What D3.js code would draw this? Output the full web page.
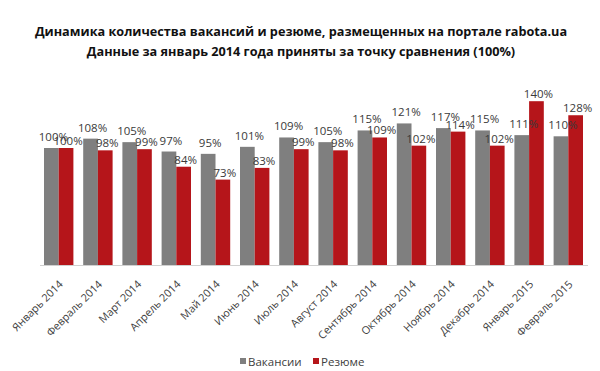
<!DOCTYPE html>
<html>
<head>
<meta charset="utf-8">
<script src="https://cdn.jsdelivr.net/npm/d3@7"></script>
<style>
  body { margin: 0; background: #fff; }
  svg { display: block; font-family: "Open Sans", "DejaVu Sans", sans-serif; }
</style>
</head>
<body>
<div id="vis"></div>
<script>
const width = 600;
const height = 371;

// Data (Jan 2014 = 100%)
const months = [
  "Январь 2014", "Февраль 2014", "Март 2014", "Апрель 2014", "Май 2014",
  "Июнь 2014", "Июль 2014", "Август 2014", "Сентябрь 2014", "Октябрь 2014",
  "Ноябрь 2014", "Декабрь 2014", "Январь 2015", "Февраль 2015"
];
const vacancies = [100, 108, 105, 97, 95, 101, 109, 105, 115, 121, 117, 115, 111, 110];
const resumes = [100, 98, 99, 84, 73, 83, 99, 98, 109, 102, 114, 102, 140, 128];
const seriesNames = ["Вакансии", "Резюме"];
const colors = ["#7f7f7f", "#b5151a"];
const titleLines = [
  "Динамика количества вакансий и резюме, размещенных на портале rabota.ua",
  "Данные за январь 2014 года приняты за точку сравнения (100%)"
];

const svg = d3.select("#vis")
  .append("svg")
  .attr("width", width)
  .attr("height", height);

// Scales
const x = d3.scaleBand()
  .domain(months)
  .range([44, 583])
  .paddingInner(0.25)
  .paddingOuter(0);

const xSub = d3.scaleBand()
  .domain(seriesNames)
  .range([0, x.bandwidth()]);

const y = d3.scaleLinear()
  .domain([0, 160])
  .range([265, 265 - 1.17 * 160]);

// Title
svg.selectAll(".title")
  .data(titleLines)
  .join("text")
  .attr("class", "title")
  .attr("x", 301)
  .attr("y", (d, i) => 36 + i * 20)
  .attr("text-anchor", "middle")
  .style("font-size", "12.7px")
  .style("font-weight", "700")
  .style("fill", "#111")
  .text(d => d);

// Bars
const rows = months.map((m, i) => ({ month: m, values: [vacancies[i], resumes[i]] }));

const groups = svg.append("g")
  .selectAll("g")
  .data(rows)
  .join("g")
  .attr("transform", d => `translate(${x(d.month)},0)`);

groups.selectAll("rect")
  .data(d => d.values.map((v, k) => ({ key: seriesNames[k], k, v })))
  .join("rect")
  .attr("x", d => xSub(d.key))
  .attr("y", d => y(d.v))
  .attr("width", xSub.bandwidth())
  .attr("height", d => y(0) - y(d.v))
  .attr("fill", d => colors[d.k]);

// Value labels
groups.selectAll("text")
  .data(d => d.values.map((v, k) => ({ key: seriesNames[k], k, v })))
  .join("text")
  .attr("x", d => xSub(d.key) + xSub.bandwidth() / 2 + 2)
  .attr("y", d => y(d.v) - (d.k === 0 ? 7 : 3))
  .attr("text-anchor", "middle")
  .style("font-size", "11.5px")
  .style("fill", "#3a3a3a")
  .text(d => d.v + "%");

// Axis line
svg.append("line")
  .attr("x1", 40).attr("x2", 588)
  .attr("y1", y(0) + 0.5).attr("y2", y(0) + 0.5)
  .attr("stroke", "#d0d0d0")
  .attr("stroke-width", 1);

// Month labels (rotated)
svg.append("g")
  .selectAll("text")
  .data(months)
  .join("text")
  .attr("transform", d => `translate(${x(d) + x.bandwidth() / 2 + 5},285) rotate(-45)`)
  .attr("text-anchor", "end")
  .style("font-size", "10.8px")
  .style("fill", "#404040")
  .text(d => d);

// Legend
const legendX = [240, 313];
const legend = svg.append("g")
  .selectAll("g")
  .data(seriesNames)
  .join("g")
  .attr("transform", (d, i) => `translate(${legendX[i]},358)`);

legend.append("rect")
  .attr("width", 6)
  .attr("height", 6)
  .attr("fill", (d, i) => colors[i]);

legend.append("text")
  .attr("x", 8)
  .attr("y", 7.5)
  .style("font-size", "11.5px")
  .style("fill", "#404040")
  .text(d => d);
</script>
</body>
</html>
